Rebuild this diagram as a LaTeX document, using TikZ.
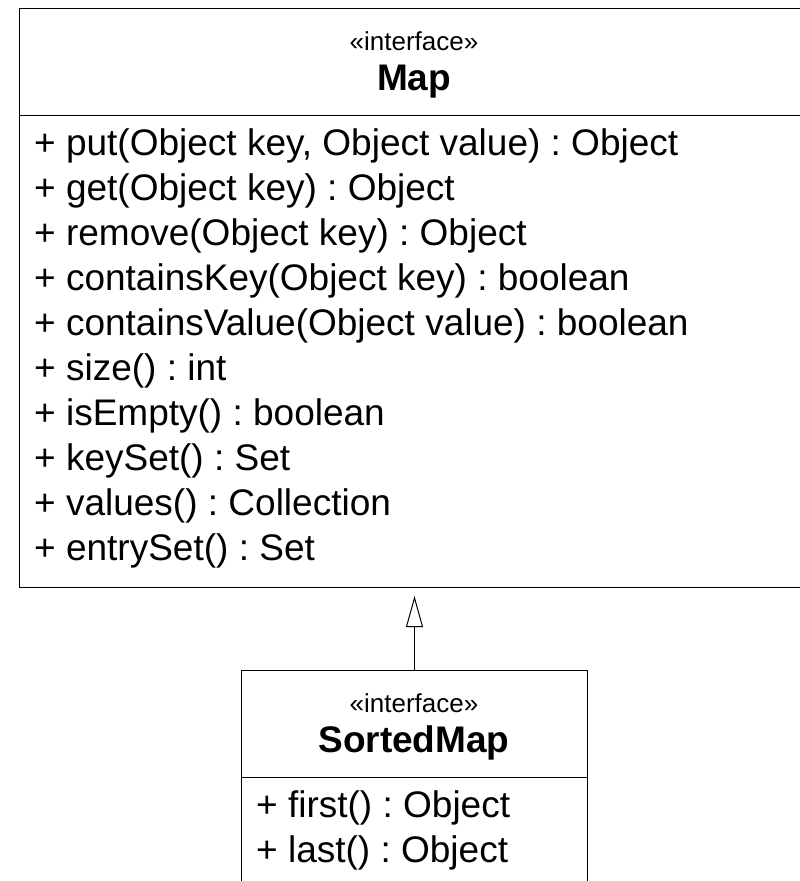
\documentclass[tikz,border=0pt]{standalone}
\usepackage{fontspec}
\setmainfont{Liberation Sans}
\usetikzlibrary{arrows.meta}
\frenchspacing
\tikzset{
  classbox/.style={draw=black, line width=1pt, inner sep=0pt, anchor=north west},
  sepline/.style={draw=black, line width=1pt},
  member/.style={anchor=base west, inner sep=0pt, font=\fontsize{37}{44}\selectfont},
  stereo/.style={anchor=base, inner sep=0pt, font=\fontsize{26}{30}\selectfont},
  cname/.style={anchor=base, inner sep=0pt, font=\fontsize{37}{44}\selectfont\bfseries},
  realize/.style={draw=black, line width=1pt, -{Triangle[open, length=31pt, width=17pt, line width=1pt]}}
}
\begin{document}
\begin{tikzpicture}[x=1pt, y=-1pt]
\useasboundingbox (0,0) rectangle (800,881);
\clip (0,0) rectangle (800,881);
% Map
\node[classbox, minimum width=790pt, minimum height=579pt] (map) at (19,8) {};
\draw[sepline] (19,115) -- (809,115);
\node[stereo] (mapst) at (414,50) {«interface»};
\node[cname] (mapn) at (414,90) {Map};
\node[member] (m1) at (34,155) {+ put(Object key, Object value) : Object};
\node[member] (m2) at (34,200) {+ get(Object key) : Object};
\node[member] (m3) at (34,245) {+ remove(Object key) : Object};
\node[member] (m4) at (34,290) {+ containsKey(Object key) : boolean};
\node[member] (m5) at (34,335) {+ containsValue(Object value) : boolean};
\node[member] (m6) at (34,380) {+ size() : int};
\node[member] (m7) at (34,425) {+ isEmpty() : boolean};
\node[member] (m8) at (34,470) {+ keySet() : Set};
\node[member] (m9) at (34,515) {+ values() : Collection};
\node[member] (m10) at (34,560) {+ entrySet() : Set};
% SortedMap
\node[classbox, minimum width=346pt, minimum height=260pt] (sm) at (241,670) {};
\draw[sepline] (241,777) -- (587,777);
\node[stereo] (smst) at (414,712) {«interface»};
\node[cname] (smn) at (414,752) {SortedMap};
\node[member] (s1) at (256,817) {+ first() : Object};
\node[member] (s2) at (256,862) {+ last() : Object};
% realization
\coordinate (tip) at ([yshift=-8pt]map.south);
\draw[realize] (sm.north) -- (tip);
\end{tikzpicture}
\end{document}
